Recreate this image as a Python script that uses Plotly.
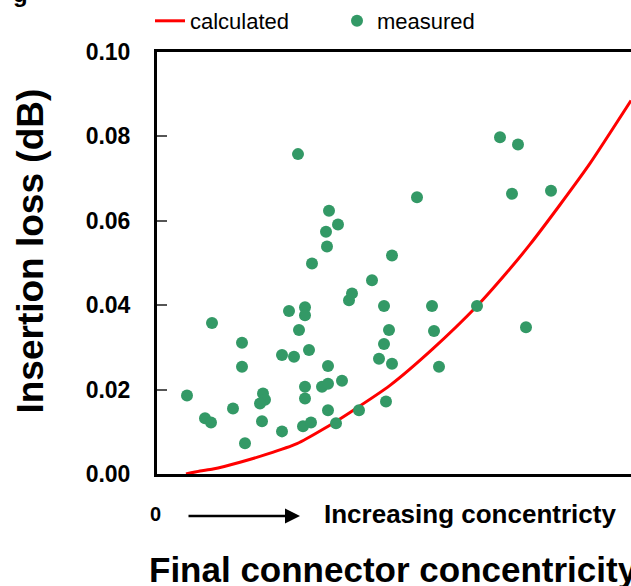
import plotly.graph_objects as go

# Measured insertion loss (x: concentricity, arbitrary units; y: dB)
meas_x = [30, 48, 54, 55, 76, 85, 85, 88, 106, 108, 103, 105, 125, 125, 137, 132,
          148, 148, 142, 152, 148, 148, 146, 154, 171, 165, 171, 185, 171, 179, 202,
          192, 195, 227, 232, 227, 222, 235, 229, 141, 155, 172, 169, 181, 170, 235,
          215, 260, 275, 277, 282, 320, 343, 361, 355, 394, 369]
meas_y = [0.0186, 0.0132, 0.0122, 0.0358, 0.0155, 0.0311, 0.0254, 0.0073, 0.0191,
          0.0176, 0.0167, 0.0125, 0.0101, 0.0282, 0.0278, 0.0386, 0.0395, 0.0376,
          0.0341, 0.0294, 0.0207, 0.0179, 0.0113, 0.0122, 0.0256, 0.0207, 0.0214,
          0.0221, 0.0151, 0.0120, 0.0151, 0.0412, 0.0428, 0.0398, 0.0341, 0.0308,
          0.0273, 0.0261, 0.0172, 0.0758, 0.0499, 0.0624, 0.0574, 0.0591, 0.0539,
          0.0518, 0.0459, 0.0656, 0.0398, 0.0339, 0.0254, 0.0398, 0.0798, 0.0781,
          0.0664, 0.0671, 0.0348]

# Calculated curve
calc_x = [29, 43, 56, 83, 110, 140, 166, 193, 233, 276, 320, 350, 373, 403, 433, 474]
calc_y = [0.0, 0.0007, 0.0012, 0.0028, 0.0047, 0.0072, 0.0106, 0.0146, 0.0210,
          0.0297, 0.0398, 0.0478, 0.0544, 0.0638, 0.0736, 0.0885]

y_ticks = [0.00, 0.02, 0.04, 0.06, 0.08, 0.10]
y_tick_labels = ["0.00", "0.02", "0.04", "0.06", "0.08", "0.10"]

FONT = "Liberation Sans, Arial, sans-serif"

fig = go.Figure()
fig.add_trace(go.Scatter(x=calc_x, y=calc_y, mode="lines", name="calculated",
                         line=dict(color="#ff0000", width=3, shape="spline", smoothing=0.6)))
fig.add_trace(go.Scatter(x=meas_x, y=meas_y, mode="markers", name="measured",
                         marker=dict(color="#339966", size=12)))

W, H = 631, 586
L, R, T, B = 157, 0, 51, 112
pw, ph = W - L - R, H - T - B

def px(x):
    return (x - L) / pw

def py(y):
    return (H - B - y) / ph

fig.update_layout(
    width=W, height=H,
    margin=dict(l=L, r=R, t=T, b=B),
    paper_bgcolor="white", plot_bgcolor="white",
    font=dict(family=FONT, color="black"),
    showlegend=True,
    legend=dict(orientation="h", x=px(150), y=py(20), xanchor="left", yanchor="middle",
                font=dict(size=22, family=FONT), bgcolor="rgba(0,0,0,0)",
                entrywidth=142, entrywidthmode="pixels", traceorder="normal"),
    xaxis=dict(range=[0, 474], showgrid=False, zeroline=False, showticklabels=False,
               ticks="", showline=True, linecolor="black", linewidth=3, mirror=True),
    yaxis=dict(range=[0, 0.1], showgrid=False, zeroline=False, tickmode="array",
               tickvals=y_ticks, ticktext=y_tick_labels, ticks="inside", ticklen=10,
               tickwidth=2, tickcolor="#555555", showline=True, linecolor="black",
               linewidth=3, ticklabelstandoff=19,
               tickfont=dict(size=23, family=FONT, weight="bold")),
)

ann = [
    dict(text="<b>Insertion loss (dB)</b>", x=px(31), y=py(251), textangle=-90,
         font=dict(size=37), xanchor="center", yanchor="middle"),
    dict(text="<b>Final connector concentricity</b>", x=px(147), y=py(570),
         font=dict(size=35), xanchor="left", yanchor="middle"),
    dict(text="<b>0</b>", x=px(155), y=py(514), font=dict(size=20),
         xanchor="center", yanchor="middle"),
    dict(text="<b>Increasing concentricty</b>", x=px(322), y=py(514), font=dict(size=26),
         xanchor="left", yanchor="middle"),
    dict(text="<b>g</b>", x=px(20), y=py(-8), font=dict(size=24),
         xanchor="center", yanchor="middle"),
    dict(text="", x=px(300), y=py(516), ax=-113, ay=0, showarrow=True,
         arrowhead=2, arrowsize=1.2, arrowwidth=2.5, arrowcolor="black"),
]
for a in ann:
    a.setdefault("showarrow", False)
    a["xref"] = "paper"
    a["yref"] = "paper"
fig.update_layout(annotations=ann)

fig.write_html("out.html", config={"displayModeBar": False},
               post_script="document.body.style.margin='0';document.body.style.padding='0';")
